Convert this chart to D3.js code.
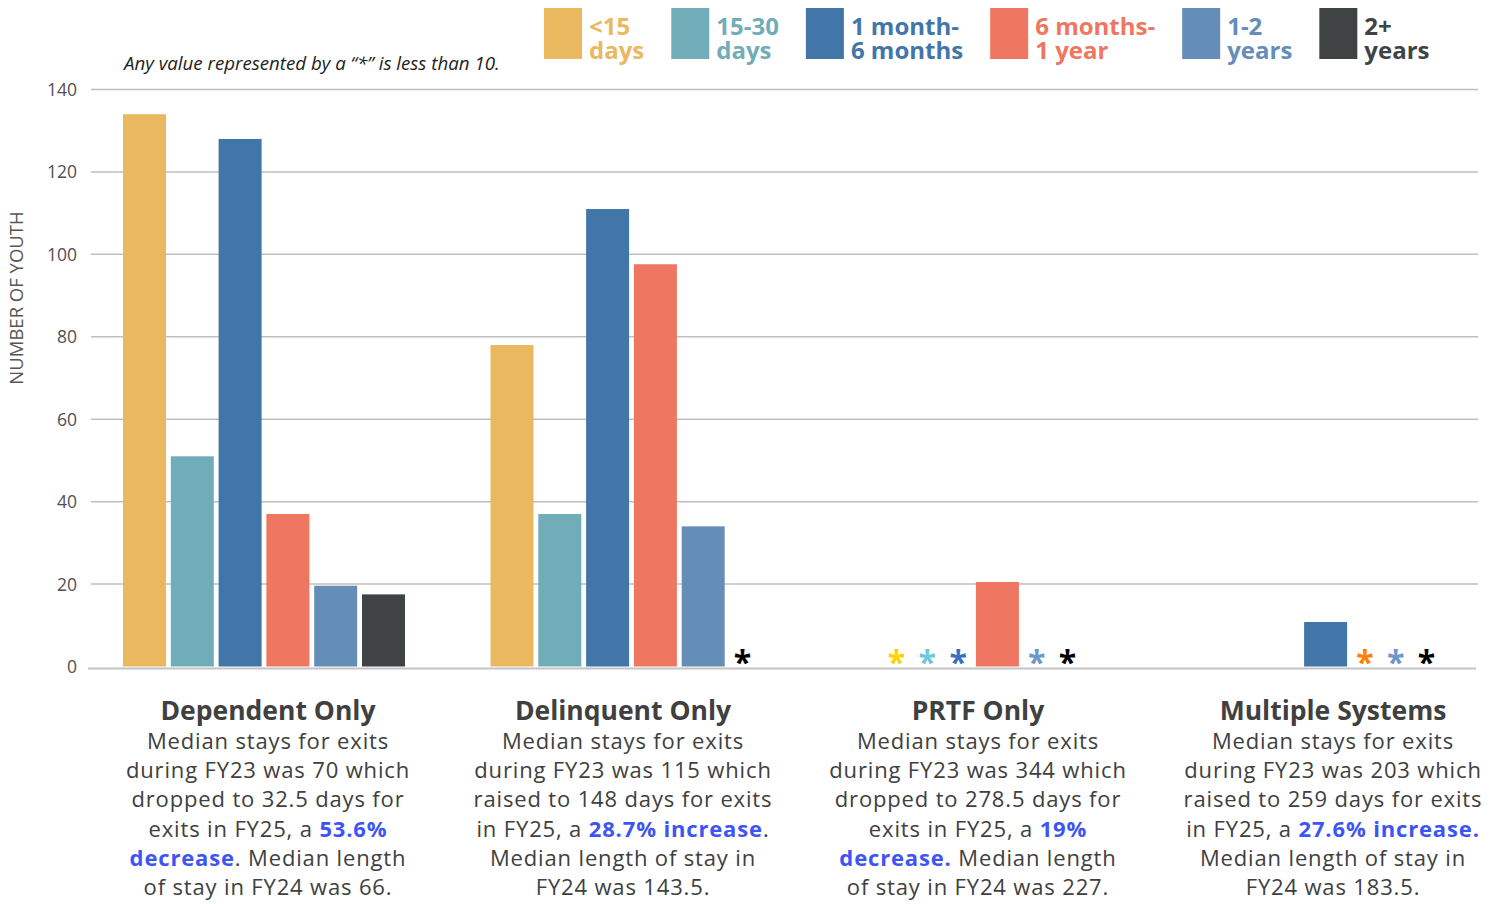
<!DOCTYPE html>
<html>
<head>
<meta charset="utf-8">
<script src="https://cdn.jsdelivr.net/npm/d3@7"></script>
<style>
  html, body { margin: 0; padding: 0; background: #ffffff; }
  svg { display: block; font-family: "Open Sans", "Noto Sans", sans-serif; }
</style>
</head>
<body>
<svg id="chart" width="1496" height="904"></svg>
<script>
// ---------------- DATA ----------------
const groups = ["Dependent Only", "Delinquent Only", "PRTF Only", "Multiple Systems"];
const seriesNames = ["<15 days", "15-30 days", "1 month-6 months", "6 months-1 year", "1-2 years", "2+ years"];
const legendLines = [["<15", "days"], ["15-30", "days"], ["1 month-", "6 months"], ["6 months-", "1 year"], ["1-2", "years"], ["2+", "years"]];
// "*" = value suppressed (less than 10); 0 = none
const dependentValues = [134, 51, 128, 37, 19.6, 17.5];
const delinquentValues = [78, 37, 111, 97.6, 34, "*"];
const prtfValues = ["*", "*", "*", 20.5, "*", "*"];
const multipleValues = [0, 0, 10.8, "*", "*", "*"];
const yTicks = [0, 20, 40, 60, 80, 100, 120, 140];
const yTitle = "NUMBER OF YOUTH";
const note = "Any value represented by a \u201C*\u201D is less than 10.";

// description texts: [text, highlighted]
const dependentText = [
  [["Median stays for exits", false]],
  [["during FY23 was 70 which", false]],
  [["dropped to 32.5 days for", false]],
  [["exits in FY25, a ", false], ["53.6%", true]],
  [["decrease", true], [". Median length", false]],
  [["of stay in FY24 was 66.", false]]
];
const delinquentText = [
  [["Median stays for exits", false]],
  [["during FY23 was 115 which", false]],
  [["raised to 148 days for exits", false]],
  [["in FY25, a ", false], ["28.7% increase", true], [".", false]],
  [["Median length of stay in", false]],
  [["FY24 was 143.5.", false]]
];
const prtfText = [
  [["Median stays for exits", false]],
  [["during FY23 was 344 which", false]],
  [["dropped to 278.5 days for", false]],
  [["exits in FY25, a ", false], ["19%", true]],
  [["decrease.", true], [" Median length", false]],
  [["of stay in FY24 was 227.", false]]
];
const multipleText = [
  [["Median stays for exits", false]],
  [["during FY23 was 203 which", false]],
  [["raised to 259 days for exits", false]],
  [["in FY25, a ", false], ["27.6% increase.", true]],
  [["Median length of stay in", false]],
  [["FY24 was 183.5.", false]]
];

// ---------------- STYLE ----------------
const barColors = ["#E9B85F", "#71ADB8", "#4276A9", "#EF7661", "#648DB8", "#3F4344"];
const starColors = ["#FFD200", "#6EC6DA", "#3A6FC2", "#FF8000", "#6E96C8", "#000000"];
const textColor = "#404040";
const highlightColor = "#3D55F5";

const valuesByGroup = [dependentValues, delinquentValues, prtfValues, multipleValues];
const textByGroup = [dependentText, delinquentText, prtfText, multipleText];

const svg = d3.select("#chart");
const plot = { left: 91, right: 1478, top: 89.5, bottom: 666.5 };

const y = d3.scaleLinear().domain([0, 140]).range([plot.bottom, plot.top]);
const groupX = d3.scalePoint().domain(groups).range([264, 1341]);
const labelX = d3.scalePoint().domain(groups).range([268, 1333]);

const barW = 43, gapW = 4.8, starW = 26;

// gridlines
svg.append("g").selectAll("line").data(yTicks.filter(d => d > 0)).join("line")
  .attr("x1", plot.left).attr("x2", plot.right)
  .attr("y1", d => y(d)).attr("y2", d => y(d))
  .attr("stroke", "#BFBFBF").attr("stroke-width", 1.5);
// baseline
svg.append("line")
  .attr("x1", plot.left - 3).attr("x2", plot.right - 2)
  .attr("y1", y(0) + 2).attr("y2", y(0) + 2)
  .attr("stroke", "#C4C4C8").attr("stroke-width", 2);

// y tick labels
svg.append("g").selectAll("text").data(yTicks).join("text")
  .attr("x", 77).attr("y", d => y(d) + 6.5)
  .attr("text-anchor", "end")
  .attr("font-size", 17.5).attr("fill", "#505050")
  .text(d => d);

// y title
svg.append("text")
  .attr("transform", `translate(23, 298) rotate(-90)`)
  .attr("text-anchor", "middle")
  .attr("font-size", 18.5).attr("fill", "#555555")
  .text(yTitle);

// note
svg.append("text")
  .attr("x", 124).attr("y", 70)
  .attr("font-size", 18.7).attr("font-style", "italic").attr("fill", "#222222")
  .text(note);

// bars & stars
groups.forEach((g, gi) => {
  const vals = valuesByGroup[gi];
  const items = vals.map((v, si) => ({ v, si, isBar: typeof v === "number" && v > 0 }));
  const widths = items.map(d => d.isBar ? barW : starW);
  const total = d3.sum(widths) + gapW * (items.length - 1);
  let x = groupX(g) - total / 2;
  items.forEach((d, i) => { d.x = x; d.w = widths[i]; x += widths[i] + gapW; });
  const gg = svg.append("g");
  gg.selectAll("rect").data(items.filter(d => d.isBar)).join("rect")
    .attr("x", d => d.x).attr("width", d => d.w)
    .attr("y", d => y(d.v)).attr("height", d => y(0) - y(d.v))
    .attr("fill", d => barColors[d.si]);
  gg.selectAll("text").data(items.filter(d => d.v === "*")).join("text")
    .attr("x", d => d.x + d.w / 2).attr("y", y(0) + 7)
    .attr("text-anchor", "middle")
    .attr("font-size", 32).attr("font-weight", 700)
    .attr("fill", d => starColors[d.si])
    .text("*");

  // description
  const cx = labelX(g);
  svg.append("text")
    .attr("x", cx).attr("y", 720)
    .attr("text-anchor", "middle")
    .attr("font-size", 26.5).attr("font-weight", 700).attr("fill", textColor)
    .text(g);
  const lines = textByGroup[gi];
  lines.forEach((segs, li) => {
    const t = svg.append("text")
      .attr("x", cx).attr("y", 749 + li * 29.2)
      .attr("text-anchor", "middle")
      .attr("font-size", 22).attr("letter-spacing", 0.85).attr("fill", textColor);
    segs.forEach(([s, hl]) => {
      t.append("tspan").text(s)
        .attr("fill", hl ? highlightColor : textColor)
        .attr("font-weight", hl ? 700 : 400);
    });
  });
});

// legend
const legend = svg.append("g");
let lx = 544;
legendLines.forEach((ln, i) => {
  legend.append("rect")
    .attr("x", lx).attr("y", 8).attr("width", 38).attr("height", 51)
    .attr("fill", barColors[i]);
  const tx = lx + 45;
  const t1 = legend.append("text")
    .attr("x", tx).attr("y", 35)
    .attr("font-size", 24).attr("font-weight", 700).attr("fill", barColors[i])
    .text(ln[0]);
  const t2 = legend.append("text")
    .attr("x", tx).attr("y", 59)
    .attr("font-size", 24).attr("font-weight", 700).attr("fill", barColors[i])
    .text(ln[1]);
  const tw = Math.max(t1.node().getComputedTextLength(), t2.node().getComputedTextLength());
  lx = tx + tw + 27;
});
</script>
</body>
</html>
